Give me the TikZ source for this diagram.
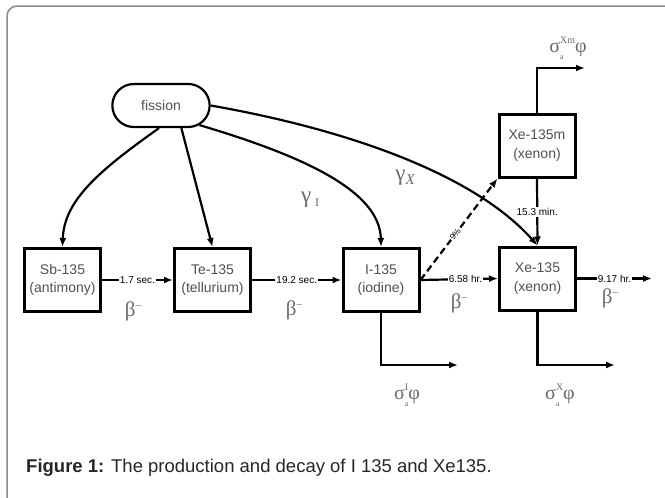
\documentclass[tikz,border=0pt]{standalone}
\usepackage{fontspec}
\setmainfont{Liberation Sans}
\newfontfamily\gkf{Liberation Serif}
\usetikzlibrary{arrows.meta,shapes.misc}
\definecolor{txtgray}{HTML}{505050}
\definecolor{greekgray}{HTML}{6A6A6A}
\definecolor{framegray}{HTML}{8A8A8A}
\newcommand\betaminus{β\raisebox{8pt}{\fontsize{11}{11}\selectfont –}}
\newcommand\sigphi[1]{σ\makebox[0pt][l]{\raisebox{-7pt}{\fontsize{8}{8}\selectfont a}}\raisebox{9pt}{\fontsize{10}{10}\selectfont #1}φ}
\begin{document}
\begin{tikzpicture}[x=1pt,y=-1pt,
  iso/.style={draw, line width=3pt, minimum width=76pt, minimum height=63pt, inner sep=0pt,
    align=center, text=txtgray, font=\fontsize{14}{18.5}\selectfont},
  fis/.style={draw, rounded rectangle, line width=2.2pt, minimum width=104pt, minimum height=43pt,
    text=txtgray, font=\fontsize{14}{16}\selectfont},
  arr/.style={line width=2.2pt, -{Latex[length=9pt,width=7pt]}},
  lbl/.style={fill=white, inner sep=1pt, text=black, font=\fontsize{10}{12}\selectfont},
  greek/.style={text=greekgray, inner sep=0pt},
]
\useasboundingbox (0,0) rectangle (665,498);
\clip (0,0) rectangle (665,498);
\draw[framegray, line width=1.5pt, rounded corners=10pt] (7,6) rectangle (690,520);

% nodes
\node[fis] (fission) at (161,105.5) {fission};
\node[iso] (sb) at (62.5,280) {Sb-135\\(antimony)};
\node[iso] (te) at (212.5,280) {Te-135\\(tellurium)};
\node[iso] (io) at (381,280) {I-135\\(iodine)};
\node[iso] (xe) at (537.5,278.5) {Xe-135\\(xenon)};
\node[iso] (xem) at (537,145.5) {Xe-135m\\(xenon)};

\coordinate (xeout) at (652,278.5);
\coordinate (ic) at (458,365);
\coordinate (xc) at (615,365);
\coordinate (xmc) at (585,68);

% decay chain
\draw[arr] (sb.east) -- node[lbl]{1.7 sec.} (te.west);
\draw[arr] (te.east) -- node[lbl]{19.2 sec.} (io.west);
\draw[arr] (io.east) -- node[lbl, pos=0.58]{6.58 hr.} (xe.west);
\draw[arr] (xe.east) -- node[lbl]{9.17 hr.} (xeout);
\draw[arr] (xem.south) -- node[lbl]{15.3 min.} (xe.north);
\draw[arr, dash pattern=on 7pt off 4pt] (io.east) -- node[lbl, sloped, pos=0.45, inner sep=0.5pt, font=\fontsize{8.5}{9}\selectfont]{9\%} (xem.south west);

% absorption branches
\draw[arr] (io.south) |- (ic);
\draw[arr] (xe.south) |- (xc);
\draw[arr] (xem.north) |- (xmc);

% fission yields
\draw[arr] (fission.265) .. controls (100,170) and (64,200) .. (sb.north);
\draw[arr] (fission.312) -- (te.north);
\draw[arr] (fission.333) .. controls (300,155) and (380,190) .. (io.north);
\draw[arr] (fission.east) .. controls (350,130) and (475,175) .. (xe.north);

% greek labels
\node[greek, font=\gkf\fontsize{21}{21}\selectfont] (b1) at (133,311) {\betaminus};
\node[greek, font=\gkf\fontsize{21}{21}\selectfont] (b2) at (294,310) {\betaminus};
\node[greek, font=\gkf\fontsize{21}{21}\selectfont] (b3) at (459,303) {\betaminus};
\node[greek, font=\gkf\fontsize{21}{21}\selectfont] (b4) at (610,298) {\betaminus};
\node[greek, font=\gkf\fontsize{23}{23}\selectfont] (gi) at (310,200) {γ\,\raisebox{-4pt}{\fontsize{12}{12}\selectfont I}};
\node[greek, font=\gkf\fontsize{23}{23}\selectfont] (gx) at (405,178) {γ\raisebox{-4pt}{\fontsize{15}{15}\selectfont\itshape X}};
\node[greek, font=\gkf\fontsize{20}{20}\selectfont] (si) at (407,395) {\sigphi{I}};
\node[greek, font=\gkf\fontsize{20}{20}\selectfont] (sx) at (560,395) {\sigphi{X}};
\node[greek, font=\gkf\fontsize{20}{20}\selectfont] (sxm) at (568,48) {\sigphi{Xm}};

% caption
\node[anchor=west, inner sep=0pt, text=black!85, font=\fontsize{18.5}{20}\selectfont] (cap) at (26,468)
  {\textbf{Figure 1:} The production and decay of I 135 and Xe135.};
\end{tikzpicture}
\end{document}
